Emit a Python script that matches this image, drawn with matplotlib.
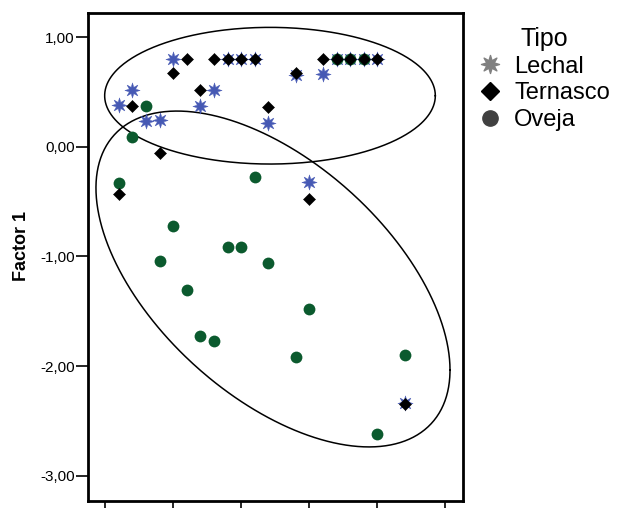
import numpy as np
import matplotlib.pyplot as plt
from matplotlib.path import Path
from matplotlib.lines import Line2D
from matplotlib.ticker import FuncFormatter

plt.rcParams['font.family'] = ['Liberation Sans', 'DejaVu Sans']

# data (x in tick units, y = Factor 1)
lechal_x = [1.0, 0.4, 0.2, 0.6, 0.8, 1.6, 1.4, 2.4, 2.8, 3.2, 1.8, 2.0, 2.2,
            3.4, 3.6, 3.8, 4.0, 3.0, 4.4]
lechal_y = [0.80, 0.52, 0.38, 0.23, 0.24, 0.52, 0.37, 0.22, 0.65, 0.66, 0.80, 0.80, 0.80,
            0.80, 0.80, 0.80, 0.80, -0.325, -2.34]

ternasco_x = [1.2, 1.0, 1.6, 1.8, 2.0, 2.2, 1.4, 0.4, 2.4, 2.8, 3.2,
              3.4, 3.6, 3.8, 4.0, 0.8, 0.2, 3.0, 4.4]
ternasco_y = [0.80, 0.67, 0.80, 0.80, 0.80, 0.80, 0.52, 0.37, 0.365, 0.67, 0.80,
              0.80, 0.80, 0.80, 0.80, -0.06, -0.434, -0.474, -2.345]

oveja_x = [0.6, 0.4, 3.4, 3.6, 3.8, 0.2, 2.2, 1.0, 1.8, 2.0, 0.8, 2.4, 1.2,
           3.0, 1.4, 1.6, 2.8, 4.4, 4.0]
oveja_y = [0.37, 0.09, 0.80, 0.80, 0.80, -0.334, -0.279, -0.723, -0.914, -0.914, -1.042, -1.057, -1.309,
           -1.477, -1.726, -1.768, -1.92, -1.899, -2.622]

# ellipses: centre, half extents along x / y, phase between them
ellipses = [
    (2.422, 0.465, 2.431, 0.623, np.pi / 2),
    (2.466, -1.206, 2.603, 1.531, 0.998),
]

yticks = [1, 0, -1, -2, -3]
xticks = [0, 1, 2, 3, 4, 5]


def star_marker(n=8, inner=0.45):
    ang = np.pi / 2 + np.arange(2 * n) * np.pi / n
    r = np.where(np.arange(2 * n) % 2 == 0, 1.0, inner)
    v = np.column_stack([r * np.cos(ang), r * np.sin(ang)])
    return Path(np.vstack([v, v[:1]]), closed=True)


star = star_marker()

fig = plt.figure(figsize=(6.2, 5.08), dpi=100)
ax = fig.add_axes([88 / 620, 7 / 508, 375 / 620, 488 / 508])

ax.plot(lechal_x, lechal_y, ls='none', marker=star, ms=11, color='#4659b4', mew=0.3, zorder=3)
ax.plot(oveja_x, oveja_y, ls='none', marker='o', ms=8.5, color='#0b5a2e', mew=0, zorder=4)
ax.plot(ternasco_x, ternasco_y, ls='none', marker='D', ms=5.8, color='black', mew=0.4, zorder=5)

t = np.linspace(0, 2 * np.pi, 500)
for cx, cy, rx, ry, phi in ellipses:
    ax.plot(cx + rx * np.cos(t), cy - ry * np.cos(t + phi), color='black', lw=1.1, zorder=2)

ax.set_xlim(-0.254, 5.26)
ax.set_ylim(-3.23, 1.219)
ax.set_yticks(yticks)
ax.yaxis.set_major_formatter(FuncFormatter(lambda v, p: f"{v:.2f}".replace('.', ',')))
ax.set_xticks(xticks)
ax.set_xticklabels([])
ax.tick_params(direction='out', length=8.5, width=1.2, labelsize=11, pad=1)
for s in ax.spines.values():
    s.set_linewidth(2)

ax.set_ylabel('Factor 1', fontsize=13, fontweight='bold')
ax.yaxis.set_label_coords(-0.155, 0.523)

handles = [
    Line2D([], [], ls='none', marker=star, ms=13, color='#808080'),
    Line2D([], [], ls='none', marker='D', ms=9, color='black'),
    Line2D([], [], ls='none', marker='o', ms=11, color='#404040'),
]
fig.legend(handles, ['Lechal', 'Ternasco', 'Oveja'], title='Tipo',
           loc='upper left', bbox_to_anchor=(468 / 620, 1 - 15 / 508),
           frameon=False, fontsize=17, title_fontsize=18,
           handlelength=0.9, handletextpad=0.55, labelspacing=0.2, borderpad=0)

plt.savefig('out.png', dpi=100, facecolor='white')
